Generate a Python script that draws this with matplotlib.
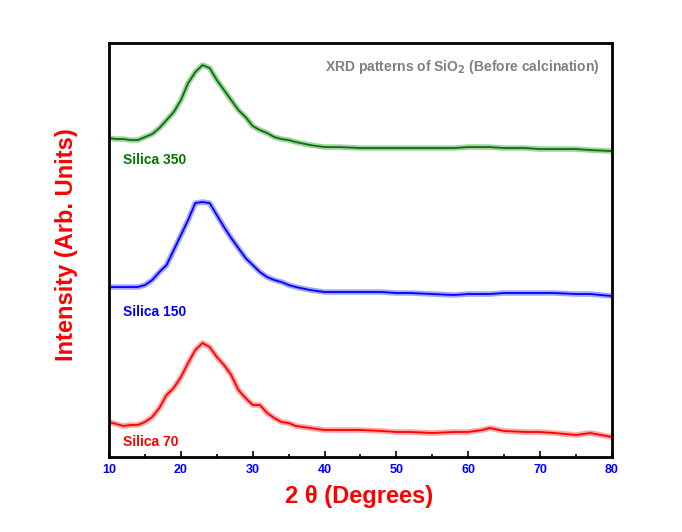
import matplotlib.pyplot as plt

plt.rcParams['font.family'] = ['Liberation Sans', 'DejaVu Sans']

two_theta = [10, 11, 12, 13, 14, 15, 16, 17, 18, 19, 20, 21, 22, 23, 24, 25, 26, 27,
             28, 29, 30, 31, 32, 33, 34, 35, 36, 38, 40, 42, 45, 48, 50, 52, 55, 58,
             60, 62, 63, 65, 68, 70, 72, 75, 77, 80]

# intensities (arb. units), each pattern before stacking
silica_70 = [35, 33, 31, 32, 32, 35, 40, 49, 62, 69, 80, 94, 107, 114, 110, 100, 92, 82,
             67, 59, 52, 52, 44, 39, 35, 34, 31, 29, 27, 27, 27, 26, 25, 25, 24, 25,
             25, 27, 29, 26, 25, 25, 24, 22, 24, 20]
silica_150 = [30, 30, 30, 30, 30, 32, 37, 45, 52, 67, 82, 97, 114, 115, 114, 102, 90, 79,
              69, 59, 52, 45, 40, 37, 35, 32, 30, 27, 25, 25, 25, 25, 24, 24, 23, 22,
              23, 23, 23, 24, 24, 24, 24, 23, 23, 21]
silica_350 = [29, 28, 28, 27, 27, 30, 33, 39, 47, 55, 67, 84, 95, 102, 99, 87, 77, 67,
              57, 50, 41, 37, 34, 30, 28, 27, 25, 22, 20, 20, 19, 19, 19, 19, 19, 19,
              20, 20, 20, 19, 19, 18, 18, 18, 17, 16]

series = [silica_70, silica_150, silica_350]
labels = ['Silica 70', 'Silica 150', 'Silica 350']
colors = ['#ff0000', '#0000ff', '#007700']
offsets = [0, 140, 290]
label_y = [15, 145, 297]

fig = plt.figure(figsize=(6.82, 5.32), dpi=100)
ax = fig.add_axes([0.160, 0.141, 0.737, 0.778])

for vals, lab, c, off, ly in zip(series, labels, colors, offsets, label_y):
    y = [v + off for v in vals]
    ax.plot(two_theta, y, color=c, lw=4, alpha=0.35, solid_joinstyle='round')
    ax.plot(two_theta, y, color=c, lw=1.3)
    ax.text(12, ly, lab, color=c, fontsize=10, fontweight='bold', va='center', ha='left')

ax.text(78.3, 390, 'XRD patterns of SiO$_\\mathbf{2}$ (Before calcination)', color='#808080',
        fontsize=10, fontweight='bold', ha='right', va='center')

ax.set_xlim(10, 80)
ax.set_ylim(0, 414)
ax.set_xticks(range(10, 81, 10))
ax.set_xticks(range(15, 80, 10), minor=True)
ax.set_yticks([])
ax.tick_params(axis='x', which='both', direction='in', top=False, colors='black',
               labelcolor='#0000ff', width=1.2, pad=5)
ax.tick_params(axis='x', which='major', length=4)
ax.tick_params(axis='x', which='minor', length=2.5)
for lab in ax.get_xticklabels():
    lab.set_fontweight('bold')
    lab.set_fontsize(9)
for sp in ax.spines.values():
    sp.set_linewidth(2)

fig.text(67 / 682, 1 - 245 / 532, 'Intensity (Arb. Units)', color='red', fontsize=17,
         fontweight='bold', rotation=90, ha='center', va='center')
fig.text(359 / 682, 1 - 497 / 532, '2 θ (Degrees)', color='red', fontsize=17,
         fontweight='bold', ha='center', va='center')

fig.savefig('out.png', dpi=100)
